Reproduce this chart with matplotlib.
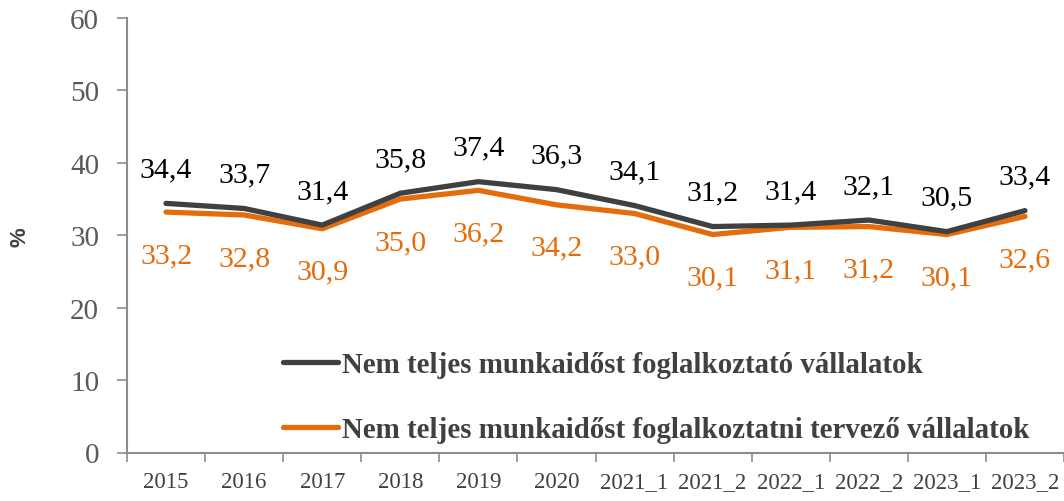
import matplotlib
matplotlib.use("Agg")
import matplotlib.pyplot as plt
import numpy as np

periods = ["2015", "2016", "2017", "2018", "2019", "2020",
           "2021_1", "2021_2", "2022_1", "2022_2", "2023_1", "2023_2"]
employing = [34.4, 33.7, 31.4, 35.8, 37.4, 36.3, 34.1, 31.2, 31.4, 32.1, 30.5, 33.4]
planning = [33.2, 32.8, 30.9, 35.0, 36.2, 34.2, 33.0, 30.1, 31.1, 31.2, 30.1, 32.6]
name_employing = "Nem teljes munkaidőst foglalkoztató vállalatok"
name_planning = "Nem teljes munkaidőst foglalkoztatni tervező vállalatok"

dark = "#404040"
orange = "#E46C0A"
axis_grey = "#8C8C8C"

plt.rcParams["font.family"] = ["Liberation Serif", "DejaVu Serif"]

fig = plt.figure(figsize=(10.64, 5.02), dpi=100)
ax = fig.add_axes([127 / 1064, 48.5 / 502, 937 / 1064, 434.5 / 502])

x = np.arange(len(periods))
ax.plot(x, employing, color=dark, lw=3.8, solid_capstyle="round", label=name_employing, zorder=3)
ax.plot(x, planning, color=orange, lw=3.8, solid_capstyle="round", label=name_planning, zorder=2)

# value labels: dark above the line, orange below it
for xi, v in zip(x, employing):
    ax.annotate(f"{v:.1f}".replace(".", ","), (xi, v), xytext=(0, 19.5),
                textcoords="offset points", ha="center", va="baseline",
                fontsize=21.5, color="black")
for xi, v in zip(x, planning):
    ax.annotate(f"{v:.1f}".replace(".", ","), (xi, v), xytext=(0, -36),
                textcoords="offset points", ha="center", va="baseline",
                fontsize=21.5, color=orange)

ax.set_xlim(-0.5, len(periods) - 0.5)
ax.set_ylim(0, 60)
ax.set_yticks(range(0, 61, 10))
ax.tick_params(axis="y", direction="out", length=7, width=1.2, color=axis_grey,
               labelsize=21, labelcolor="#595959", pad=13)

ax.set_xticks(x)
ax.set_xticklabels(periods)
ax.set_xticks(np.arange(-0.5, len(periods)), minor=True)
ax.tick_params(axis="x", which="major", length=0, labelsize=16.5, labelcolor=dark, pad=13)
ax.tick_params(axis="x", which="minor", direction="out", length=6.5, width=1.2, color=axis_grey)

for side in ("top", "right"):
    ax.spines[side].set_visible(False)
for side in ("left", "bottom"):
    ax.spines[side].set_color(axis_grey)
    ax.spines[side].set_linewidth(1.5)
ax.spines["bottom"].set_clip_on(False)

fig.text(20 / 1064, 1 - 237 / 502, "%", rotation=90, ha="center", va="center",
         fontsize=16, fontweight="bold", color=dark, family="Liberation Sans")

leg = ax.legend(loc="center left", bbox_to_anchor=(283 / 1064, 1 - 398 / 502),
                bbox_transform=fig.transFigure, frameon=False, borderpad=0,
                borderaxespad=0, handlelength=1.9, handletextpad=0.14,
                labelspacing=1.3, prop={"size": 20.8, "weight": "bold"})
for t in leg.get_texts():
    t.set_color(dark)

fig.savefig("out.png", dpi=100)
